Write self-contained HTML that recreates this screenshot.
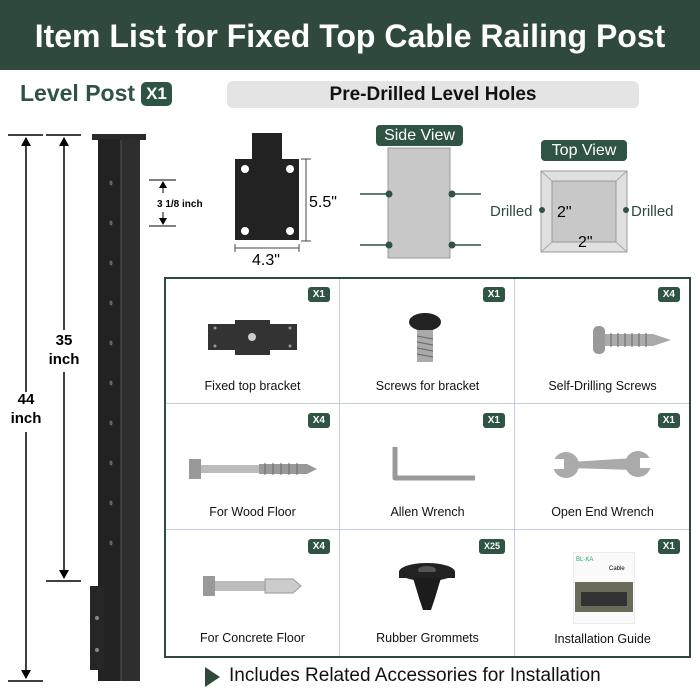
<!DOCTYPE html>
<html><head><style>
*{margin:0;padding:0;box-sizing:border-box}
body{width:700px;height:700px;background:#fff;font-family:"Liberation Sans",sans-serif;position:relative;overflow:hidden}
.a{position:absolute}
.hdr{left:0;top:0;width:700px;height:70px;background:#2f4a3c;color:#fff;font-weight:bold;font-size:32px;text-align:center;line-height:72px}
.badge{background:#2f5444;color:#fff;font-weight:bold;border-radius:3px;text-align:center}
.cell{position:absolute;width:175px;height:126px;font-size:12.5px;color:#111;text-align:center}
.cell .lbl{position:absolute;left:0;right:0;top:101px}
.cell .b{position:absolute;right:10px;top:9px;font-size:10px;padding:1px 5px;line-height:13px}
</style></head><body>
<div class="a hdr">Item List for Fixed Top Cable Railing Post</div>
<div class="a" style="left:20px;top:80px;font-size:23px;font-weight:bold;color:#2f5444">Level Post</div>
<div class="a badge" style="left:141px;top:82px;width:31px;height:24px;font-size:17px;line-height:24px;border-radius:5px">X1</div>
<div class="a" style="left:227px;top:81px;width:412px;height:27px;background:#e4e4e4;border-radius:6px;text-align:center;font-weight:bold;font-size:19px;line-height:28px;color:#111">Pre-Drilled Level Holes</div>

<svg class="a" style="left:0;top:0" width="700" height="700">
<line x1="8" y1="135" x2="43" y2="135" stroke="#000" stroke-width="1.5"/>
<line x1="46" y1="135" x2="81" y2="135" stroke="#000" stroke-width="1.5"/>
<line x1="8" y1="681" x2="43" y2="681" stroke="#000" stroke-width="1.5"/>
<line x1="46" y1="581" x2="81" y2="581" stroke="#000" stroke-width="1.5"/>
<line x1="26" y1="138" x2="26" y2="392" stroke="#000" stroke-width="1.5"/>
<path d="M21 146 L26 137 L31 146z"/>
<line x1="26" y1="432" x2="26" y2="678" stroke="#000" stroke-width="1.5"/>
<path d="M21 670 L26 679 L31 670z"/>
<line x1="64" y1="138" x2="64" y2="330" stroke="#000" stroke-width="1.5"/>
<path d="M59 146 L64 137 L69 146z"/>
<line x1="64" y1="372" x2="64" y2="578" stroke="#000" stroke-width="1.5"/>
<path d="M59 570 L64 579 L69 570z"/>
<rect x="92" y="134" width="54" height="6" fill="#2a2a2a"/>
<rect x="98" y="139" width="42" height="542" fill="#222"/>
<rect x="121" y="139" width="19" height="542" fill="#2e2e2e"/>
<line x1="121" y1="140" x2="121" y2="681" stroke="#555" stroke-width="1"/>
<rect x="90" y="586" width="14" height="84" fill="#262626"/>
<circle cx="97" cy="618" r="2" fill="#888"/><circle cx="97" cy="650" r="2" fill="#888"/>
<g fill="#666">
<ellipse cx="111" cy="183" rx="1.6" ry="2.4"/><ellipse cx="111" cy="223" rx="1.6" ry="2.4"/><ellipse cx="111" cy="263" rx="1.6" ry="2.4"/><ellipse cx="111" cy="303" rx="1.6" ry="2.4"/><ellipse cx="111" cy="343" rx="1.6" ry="2.4"/><ellipse cx="111" cy="383" rx="1.6" ry="2.4"/><ellipse cx="111" cy="423" rx="1.6" ry="2.4"/><ellipse cx="111" cy="463" rx="1.6" ry="2.4"/><ellipse cx="111" cy="503" rx="1.6" ry="2.4"/><ellipse cx="111" cy="543" rx="1.6" ry="2.4"/>
</g>
<line x1="149" y1="180" x2="176" y2="180" stroke="#000"/><line x1="149" y1="226" x2="176" y2="226" stroke="#000"/>
<path d="M159 188 L163 181 L167 188z"/><line x1="163" y1="186" x2="163" y2="193" stroke="#000"/>
<path d="M159 218 L163 225 L167 218z"/><line x1="163" y1="212" x2="163" y2="220" stroke="#000"/>
<text x="157" y="207" font-size="10" font-weight="bold" font-family="Liberation Sans">3 1/8 inch</text>
<rect x="252" y="133" width="30" height="27" fill="#222"/>
<rect x="235" y="159" width="64" height="81" fill="#222"/>
<g fill="#fff"><circle cx="245" cy="169" r="4"/><circle cx="290" cy="169" r="4"/><circle cx="245" cy="231" r="4"/><circle cx="290" cy="231" r="4"/></g>
<line x1="306" y1="159" x2="306" y2="241" stroke="#444"/><line x1="301" y1="159" x2="311" y2="159" stroke="#444"/><line x1="301" y1="241" x2="311" y2="241" stroke="#444"/>
<line x1="235" y1="248" x2="299" y2="248" stroke="#444"/><line x1="235" y1="244" x2="235" y2="252" stroke="#444"/><line x1="299" y1="244" x2="299" y2="252" stroke="#444"/>
<text x="309" y="207" font-size="16" font-family="Liberation Sans">5.5"</text>
<text x="252" y="265" font-size="16" font-family="Liberation Sans">4.3"</text>
<rect x="388" y="148" width="62" height="110" fill="#c8c8c8" stroke="#999"/>
<g stroke="#2f5444" stroke-width="1.5"><line x1="360" y1="194" x2="388" y2="194"/><line x1="450" y1="194" x2="481" y2="194"/><line x1="360" y1="245" x2="388" y2="245"/><line x1="450" y1="245" x2="481" y2="245"/></g>
<g fill="#2f5444"><circle cx="389" cy="194" r="3.5"/><circle cx="452" cy="194" r="3.5"/><circle cx="389" cy="245" r="3.5"/><circle cx="452" cy="245" r="3.5"/></g>
<rect x="541" y="171" width="86" height="81" fill="#e0e0e0" stroke="#999"/>
<rect x="552" y="181" width="64" height="61" fill="#c8c8c8" stroke="#999"/>
<g stroke="#aaa"><line x1="541" y1="171" x2="552" y2="181"/><line x1="627" y1="171" x2="616" y2="181"/><line x1="541" y1="252" x2="552" y2="242"/><line x1="627" y1="252" x2="616" y2="242"/></g>
<g fill="#2f5444"><circle cx="542" cy="210" r="3"/><circle cx="626" cy="210" r="3"/></g>
<text x="490" y="216" font-size="15" fill="#2f4a3c" font-family="Liberation Sans">Drilled</text>
<text x="631" y="216" font-size="15" fill="#2f4a3c" font-family="Liberation Sans">Drilled</text>
<text x="557" y="217" font-size="16" font-family="Liberation Sans">2"</text>
<text x="578" y="247" font-size="16" font-family="Liberation Sans">2"</text>
</svg>
<div class="a badge" style="left:376px;top:125px;width:87px;height:21px;font-weight:normal;font-size:16px;line-height:21px;border-radius:4px">Side View</div>
<div class="a badge" style="left:541px;top:140px;width:86px;height:21px;font-weight:normal;font-size:16px;line-height:21px;border-radius:4px">Top View</div>
<div class="a" style="left:6px;top:390px;width:40px;text-align:center;font-weight:bold;font-size:15px;line-height:19px">44<br>inch</div>
<div class="a" style="left:44px;top:331px;width:40px;text-align:center;font-weight:bold;font-size:15px;line-height:19px">35<br>inch</div>

<div class="a" style="left:164px;top:277px;width:527px;height:381px;border:2px solid #2f4a3c"></div>
<div class="a" style="left:339px;top:279px;width:1px;height:377px;background:#c5cede"></div>
<div class="a" style="left:514px;top:279px;width:1px;height:377px;background:#c5cede"></div>
<div class="a" style="left:166px;top:403px;width:523px;height:1px;background:#c5cede"></div>
<div class="a" style="left:166px;top:529px;width:523px;height:1px;background:#c5cede"></div>

<div class="cell" style="left:165px;top:278px"><div class="b badge">X1</div>
<svg class="a" style="left:40px;top:42px" width="100" height="36"><path d="M3 4 H30 V0 H65 V4 H92 V30 H65 V35 H30 V30 H3z" fill="#333"/><circle cx="47" cy="17" r="4" fill="#ccc"/><g fill="#999"><circle cx="10" cy="8" r="1.5"/><circle cx="85" cy="8" r="1.5"/><circle cx="10" cy="26" r="1.5"/><circle cx="85" cy="26" r="1.5"/></g></svg>
<div class="lbl">Fixed top bracket</div></div>
<div class="cell" style="left:340px;top:278px"><div class="b badge">X1</div>
<svg class="a" style="left:65px;top:34px" width="40" height="55"><ellipse cx="20" cy="10" rx="16" ry="9" fill="#222"/><rect x="12" y="18" width="16" height="32" fill="#aaa"/><g stroke="#666"><line x1="12" y1="24" x2="28" y2="27"/><line x1="12" y1="30" x2="28" y2="33"/><line x1="12" y1="36" x2="28" y2="39"/><line x1="12" y1="42" x2="28" y2="45"/></g></svg>
<div class="lbl">Screws for bracket</div></div>
<div class="cell" style="left:515px;top:278px"><div class="b badge">X4</div>
<svg class="a" style="left:78px;top:44px" width="80" height="36"><rect x="0" y="4" width="12" height="28" rx="5" fill="#999"/><path d="M12 12 H60 L78 18 L60 24 H12z" fill="#aaa"/><g stroke="#666"><line x1="18" y1="11" x2="18" y2="25"/><line x1="25" y1="11" x2="25" y2="25"/><line x1="32" y1="11" x2="32" y2="25"/><line x1="39" y1="11" x2="39" y2="25"/><line x1="46" y1="11" x2="46" y2="25"/><line x1="53" y1="11" x2="53" y2="25"/></g></svg>
<div class="lbl">Self-Drilling Screws</div></div>

<div class="cell" style="left:165px;top:404px"><div class="b badge">X4</div>
<svg class="a" style="left:24px;top:53px" width="130" height="24"><rect x="0" y="2" width="12" height="20" fill="#999"/><rect x="12" y="8" width="58" height="8" fill="#bbb"/><path d="M70 7 H118 L128 12 L118 17 H70z" fill="#999"/><g stroke="#666"><line x1="76" y1="6" x2="76" y2="18"/><line x1="84" y1="6" x2="84" y2="18"/><line x1="92" y1="6" x2="92" y2="18"/><line x1="100" y1="6" x2="100" y2="18"/><line x1="108" y1="6" x2="108" y2="18"/></g></svg>
<div class="lbl">For Wood Floor</div></div>
<div class="cell" style="left:340px;top:404px"><div class="b badge">X1</div>
<svg class="a" style="left:50px;top:40px" width="90" height="42"><path d="M5 3 V34 H85" fill="none" stroke="#999" stroke-width="5" stroke-linejoin="round"/></svg>
<div class="lbl">Allen Wrench</div></div>
<div class="cell" style="left:515px;top:404px"><div class="b badge">X1</div>
<svg class="a" style="left:37px;top:44px" width="100" height="34"><path d="M18 14 L82 10 L82 22 L18 20z" fill="#aaa"/><circle cx="14" cy="17" r="13" fill="#aaa"/><circle cx="86" cy="16" r="13" fill="#aaa"/><rect x="0" y="11" width="12" height="10" fill="#fff"/><rect x="88" y="10" width="12" height="10" fill="#fff"/></svg>
<div class="lbl">Open End Wrench</div></div>

<div class="cell" style="left:165px;top:530px"><div class="b badge">X4</div>
<svg class="a" style="left:38px;top:44px" width="100" height="24"><rect x="0" y="2" width="12" height="20" fill="#999"/><rect x="12" y="7" width="50" height="10" fill="#bbb"/><path d="M62 5 H90 L98 12 L90 19 H62z" fill="#ccc" stroke="#999"/></svg>
<div class="lbl">For Concrete Floor</div></div>
<div class="cell" style="left:340px;top:530px"><div class="b badge" style="font-size:9px">X25</div>
<svg class="a" style="left:55px;top:32px" width="64" height="62"><ellipse cx="32" cy="10" rx="28" ry="9" fill="#222"/><ellipse cx="32" cy="8" rx="9" ry="4" fill="#555"/><rect x="4" y="10" width="56" height="6" fill="#222"/><path d="M18 16 H46 L40 36 L36 48 H28 L24 36z" fill="#1c1c1c"/></svg>
<div class="lbl">Rubber Grommets</div></div>
<div class="cell" style="left:515px;top:530px"><div class="b badge">X1</div>
<svg class="a" style="left:58px;top:22px" width="62" height="72"><rect x="0" y="0" width="62" height="72" fill="#fafafa" stroke="#ddd"/><text x="3" y="9" font-size="6" fill="#2a6" font-family="Liberation Sans">BL·KA</text><text x="36" y="18" font-size="6" font-family="Liberation Sans">Cable</text><rect x="2" y="30" width="58" height="30" fill="#6b6b5a"/><rect x="8" y="40" width="46" height="14" fill="#333"/></svg>
<div class="lbl" style="top:102px">Installation Guide</div></div>

<svg class="a" style="left:205px;top:667px" width="16" height="20"><path d="M0 0 L15 10 L0 20z" fill="#2f4a3c"/></svg>
<div class="a" style="left:229px;top:665px;font-size:19px;color:#111">Includes Related Accessories for Installation</div>
</body></html>
